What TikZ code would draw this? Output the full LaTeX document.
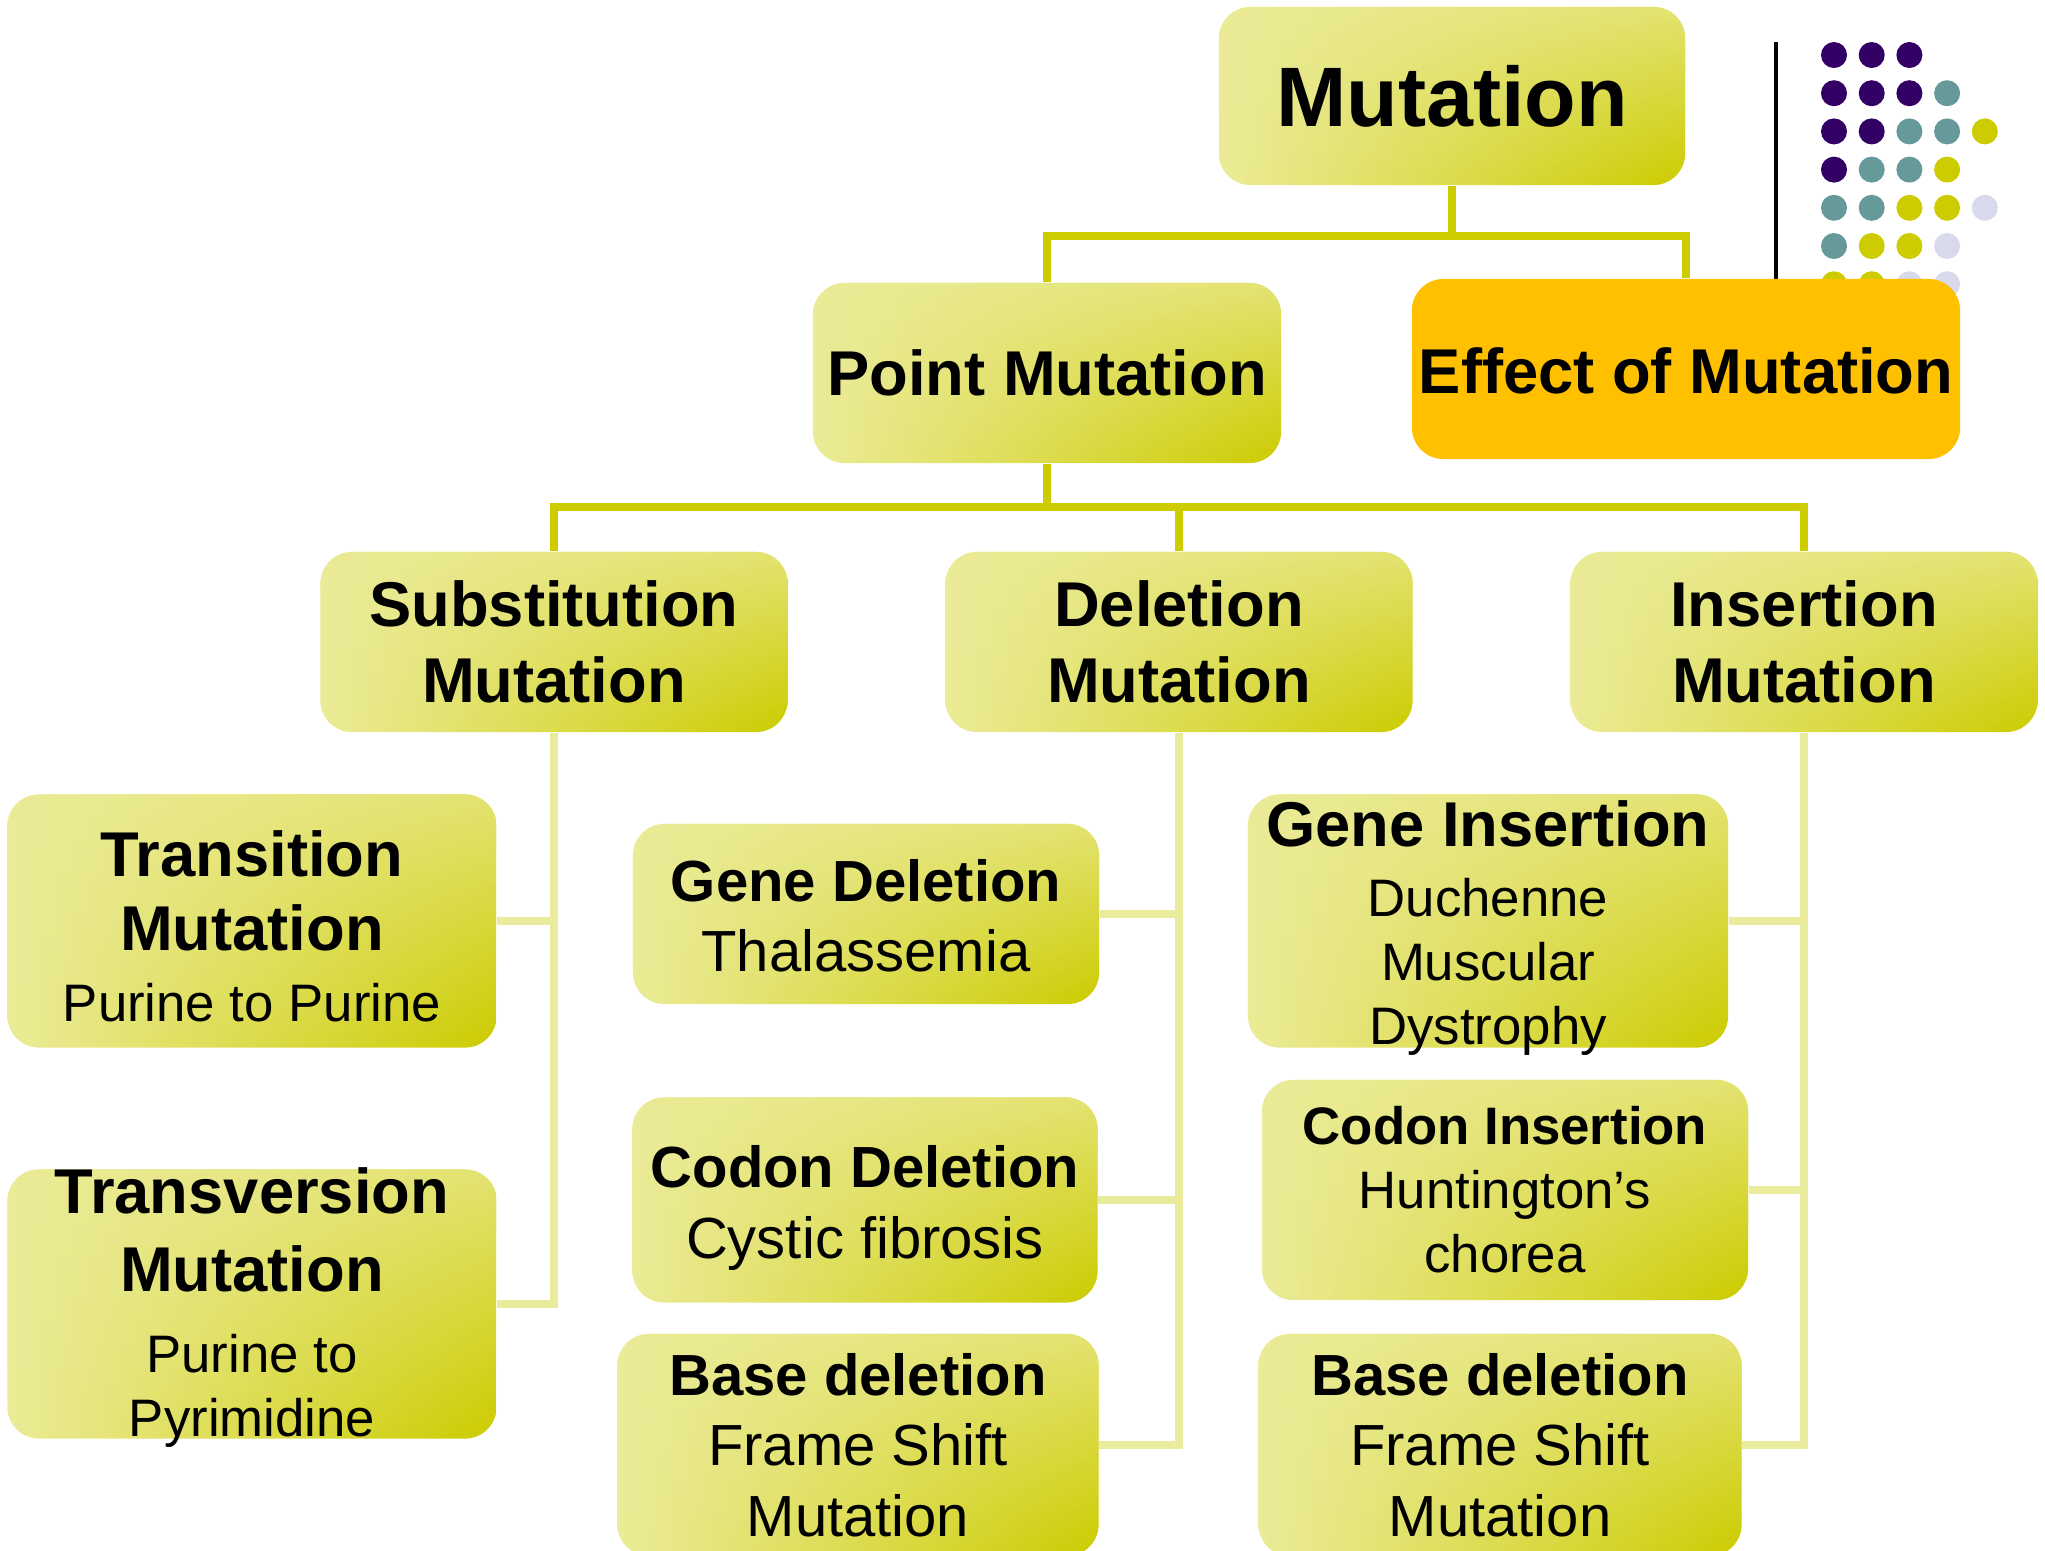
\documentclass[tikz,border=0pt]{standalone}
\usepackage{fontspec}
\setmainfont{Liberation Sans}
\usetikzlibrary{fadings}

\definecolor{palelime}{RGB}{235,235,152}
\definecolor{lime}{RGB}{204,204,0}
\definecolor{lightlink}{RGB}{235,235,158}
\definecolor{amber}{RGB}{255,192,0}
\definecolor{dp}{RGB}{51,0,102}
\definecolor{dt}{RGB}{102,153,153}
\definecolor{dy}{RGB}{204,204,0}
\definecolor{dl}{RGB}{217,217,236}

\tikzfading[name=topsheen, top color=transparent!0, middle color=transparent!85, bottom color=transparent!100]

\tikzstyle{box} = [rectangle, rounded corners=9pt, inner sep=0pt, left color=palelime, right color=lime, postaction={fill=palelime, fill opacity=0.75, path fading=topsheen}]
\tikzstyle{effectbox} = [rectangle, rounded corners=9pt, inner sep=0pt, fill=amber]
\tikzstyle{link} = [line width=2.2pt, draw=lime]
\tikzstyle{sublink} = [line width=2.2pt, draw=lightlink]
\tikzstyle{txt} = [align=center, inner sep=0pt, font=\fontsize{15}{18.2}\selectfont]
\tikzstyle{txtb} = [align=center, inner sep=0pt, font=\fontsize{16.5}{20}\selectfont]
\tikzstyle{title} = [align=center, inner sep=0pt, font=\fontsize{18}{21.6}\selectfont\bfseries]

\newcommand{\ttl}[1]{{\fontsize{18}{21.6}\selectfont\bfseries #1}}

\begin{document}
\begin{tikzpicture}[x=0.01cm, y=-0.01cm]
\useasboundingbox (0,0) rectangle (2045,1550);

% dots and rule, top right
\draw [line width=1pt] (1776,42) -- (1776,279);
\foreach \row [count=\r from 0] in {{dp,dp,dp},{dp,dp,dp,dt},{dp,dp,dt,dt,dy},{dp,dt,dt,dy},{dt,dt,dy,dy,dl},{dt,dy,dy,dl},{dy,dy,dl,dl}}
  \foreach \col [count=\c from 0] in \row
    \fill [\col] (1834+37.7*\c, 55+38.2*\r) circle (0.13cm);

% boxes
\node (mut) [box, minimum width=4.66cm, minimum height=1.78cm] at (1452,96) {};
\node (point) [box, minimum width=4.68cm, minimum height=1.80cm] at (1047,373) {};
\node (effect) [effectbox, minimum width=5.48cm, minimum height=1.80cm] at (1686,369) {};
\node (subst) [box, minimum width=4.67cm, minimum height=1.80cm] at (554,642) {};
\node (del) [box, minimum width=4.67cm, minimum height=1.80cm] at (1179,642) {};
\node (ins) [box, minimum width=4.67cm, minimum height=1.80cm] at (1804,642) {};
\node (transit) [box, minimum width=4.89cm, minimum height=2.53cm] at (252,921) {};
\node (transv) [box, minimum width=4.89cm, minimum height=2.69cm] at (252,1304) {};
\node (gdel) [box, minimum width=4.66cm, minimum height=1.80cm] at (866,914) {};
\node (cdel) [box, minimum width=4.65cm, minimum height=2.05cm] at (865,1200) {};
\node (bdel) [box, minimum width=4.81cm, minimum height=2.22cm] at (858,1445) {};
\node (gins) [box, minimum width=4.80cm, minimum height=2.53cm] at (1488,921) {};
\node (cins) [box, minimum width=4.86cm, minimum height=2.20cm] at (1505,1190) {};
\node (bins) [box, minimum width=4.83cm, minimum height=2.22cm] at (1500,1445) {};

% texts
\node (muttxt) [title, font=\fontsize{24}{29}\selectfont\bfseries] at (mut) {Mutation};
\node (pointtxt) [title] at (point) {Point Mutation};
\node (effecttxt) [title, yshift=-0.5pt] at (effect) {Effect of Mutation};
\node (substtxt) [title] at (subst) {Substitution\\Mutation};
\node (deltxt) [title] at (del) {Deletion\\Mutation};
\node (instxt) [title] at (ins) {Insertion\\Mutation};
\node (transittxt) [txt, yshift=-1.5pt] at (transit) {\ttl{Transition}\\[3pt]\ttl{Mutation}\\[2pt]Purine to Purine};
\node (transvtxt) [txt, yshift=-1pt] at (transv) {\ttl{Transversion}\\[4pt]\ttl{Mutation}\\[5pt]Purine to\\Pyrimidine};
\node (gdeltxt) [txtb, yshift=-0.5pt] at (gdel) {\textbf{Gene Deletion}\\Thalassemia};
\node (cdeltxt) [txtb, yshift=-2.3pt] at (cdel) {\textbf{Codon Deletion}\\Cystic fibrosis};
\node (bdeltxt) [txtb] at (bdel) {\textbf{Base deletion}\\Frame Shift\\Mutation};
\node (ginstxt) [txt, yshift=-2pt] at (gins) {\ttl{Gene Insertion}\\[1.5pt]Duchenne\\Muscular\\Dystrophy};
\node (cinstxt) [txt] at (cins) {\textbf{Codon Insertion}\\Huntington’s\\chorea};
\node (binstxt) [txtb] at (bins) {\textbf{Base deletion}\\Frame Shift\\Mutation};

% links
\draw [link] (mut.south) -- ++(0,50) -| (point.north);
\draw [link] (mut.south) -- ++(0,50) -| (effect.north);
\draw [link] (point.south) -- ++(0,43) -| (subst.north);
\draw [link] (point.south) -- ++(0,43) -| (del.north);
\draw [link] (point.south) -- ++(0,43) -| (ins.north);

\draw [sublink] (subst.south) |- (transit.east);
\draw [sublink] (subst.south) |- (transv.east);
\draw [sublink] (del.south) |- (gdel.east);
\draw [sublink] (del.south) |- (cdel.east);
\draw [sublink] (del.south) |- (bdel.east);
\draw [sublink] (ins.south) |- (gins.east);
\draw [sublink] (ins.south) |- (cins.east);
\draw [sublink] (ins.south) |- (bins.east);
\end{tikzpicture}
\end{document}
